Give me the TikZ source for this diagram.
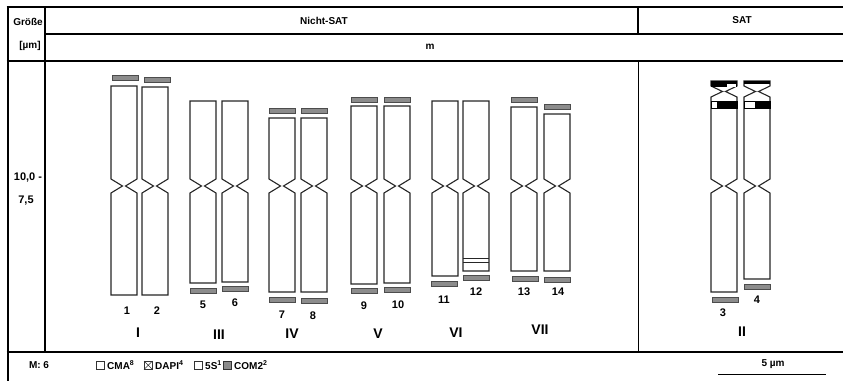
\documentclass[tikz,border=0pt]{standalone}
\usepackage{fontspec}
\setmainfont{Liberation Sans}
\usepackage{xcolor}
\usepackage{tikz}
\usetikzlibrary{positioning}

\definecolor{bandgray}{HTML}{8C8C8C}
\definecolor{chromline}{HTML}{262626}

% chromosome outline: left x, top y, bottom y
\newcommand{\chromo}[3]{%
  \draw[chromosome] (#1,#2) -- (#1+26,#2) -- (#1+26,179) -- (#1+14.5,186)
    -- (#1+26,193) -- (#1+26,#3) -- (#1,#3) -- (#1,193) -- (#1+11.5,186)
    -- (#1,179) -- cycle;}
% chromosome with satellite
\newcommand{\satchromo}[3]{%
  \draw[chromosome] (#1,#2) -- (#1+26,#2) -- (#1+26,#2+5) -- (#1+14.5,#2+10.5)
    -- (#1+26,#2+16) -- (#1+26,179) -- (#1+14.5,186) -- (#1+26,193)
    -- (#1+26,#3) -- (#1,#3) -- (#1,193) -- (#1+11.5,186) -- (#1,179)
    -- (#1,#2+16) -- (#1+11.5,#2+10.5) -- (#1,#2+5) -- cycle;}
\newcommand{\band}[2]{\draw[band] (#1,#2) rectangle ++(26,5);}

\begin{document}
\begin{tikzpicture}
      [ x=1pt, y=-1pt,
        frame/.style={line width=2.8pt, black},
        chromosome/.style={line width=1.1pt, draw=chromline, fill=white},
        band/.style={line width=0.6pt, draw=black!70, fill=bandgray},
        head/.style={font=\bfseries\fontsize{10}{12}\selectfont, inner sep=0pt},
        num/.style={font=\bfseries\fontsize{11}{13}\selectfont, inner sep=0pt},
        roman/.style={font=\bfseries\fontsize{14}{16}\selectfont, inner sep=0pt},
        key/.style={line width=0.6pt, draw=black!80}
      ]
      \useasboundingbox (0,0) rectangle (843,381);

      % table frame
      \draw[frame] (6.6,7) -- (843,7);
      \draw[frame] (45,34) -- (843,34);
      \draw[frame] (6.6,61) -- (843,61);
      \draw[frame] (6.6,352) -- (843,352);
      \draw[frame] (8,7) -- (8,381);
      \draw[frame] (45,7) -- (45,352);
      \draw[frame] (638,7) -- (638,34);
      \draw[line width=0.7pt] (638.5,61) -- (638.5,352);

      % header texts
      \node[head] (size)   at (28,22)  {Größe};
      \node[head] (unit)   at (30,46)  {[µm]};
      \node[head] (nsat)   at (324,21) {Nicht-SAT};
      \node[head] (sat)    at (742,20) {SAT};
      \node[head] (meta)   at (430,47) {m};
      \node[num]  (range)  at (28,178) {10,0 -};
      \node[num]  (rangeb) at (26,201) {7,5};

      % gray bands above
      \band{112}{75} \band{144}{77}
      \band{269}{108} \band{301}{108}
      \band{351}{97} \band{384}{97}
      \band{511}{97} \band{544}{104}

      % chromosomes
      \chromo{111}{86}{295}  \chromo{142}{87}{295}
      \chromo{190}{101}{283} \chromo{222}{101}{282}
      \chromo{269}{118}{292} \chromo{301}{118}{292}
      \chromo{351}{106}{284} \chromo{384}{106}{283}
      \chromo{432}{101}{276} \chromo{463}{101}{271}
      \chromo{511}{107}{271} \chromo{544}{114}{271}
      \satchromo{711}{81}{292} \satchromo{744}{81}{279}
      \draw[line width=0.8pt, chromline] (463,258) -- (489,258)
                                         (463,262.5) -- (489,262.5);

      % satellite marks
      \fill[black] (711,81) rectangle (737,86.5);
      \fill[white] (727,84) rectangle (736,86.5);
      \fill[black] (744,81) rectangle (770,83.5);
      \draw[line width=0.8pt] (711,101) rectangle (737,108);
      \fill[black] (717,101) rectangle (737,108);
      \draw[line width=0.8pt] (744,101) rectangle (770,108);
      \fill[black] (755,101) rectangle (770,108);

      % gray bands below
      \band{190}{288} \band{222}{286}
      \band{269}{297} \band{301}{298}
      \band{351}{288} \band{384}{287}
      \band{431}{281} \band{463}{275}
      \band{512}{276} \band{544}{277}
      \band{712}{297} \band{744}{284}

      % chromosome numbers
      \node[num] (c1)  at (127,311) {1};
      \node[num] (c2)  at (157,311) {2};
      \node[num] (c5)  at (203,305) {5};
      \node[num] (c6)  at (235,303) {6};
      \node[num] (c7)  at (282,315) {7};
      \node[num] (c8)  at (313,316) {8};
      \node[num] (c9)  at (364,306) {9};
      \node[num] (c10) at (398,305) {10};
      \node[num] (c11) at (444,300) {11};
      \node[num] (c12) at (476,292) {12};
      \node[num] (c13) at (524,292) {13};
      \node[num] (c14) at (558,292) {14};
      \node[num] (c3)  at (723,313) {3};
      \node[num] (c4)  at (757,300) {4};

      % pair numbers
      \node[roman] (pI)   at (138,333) {I};
      \node[roman] (pIII) at (219,335) {III};
      \node[roman] (pIV)  at (292,334) {IV};
      \node[roman] (pV)   at (378,334) {V};
      \node[roman] (pVI)  at (456,333) {VI};
      \node[roman] (pVII) at (540,330) {VII};
      \node[roman] (pII)  at (742,332) {II};

      % legend
      \node[head] (mono) at (39,365) {M: 6};
      \draw[key, fill=white] (96,361) rectangle (104.5,369.5);
      \node[head, anchor=west] (cma) at (107,365) {CMA\textsuperscript{8}};
      \draw[key, fill=white] (144,361) rectangle (152.5,369.5);
      \draw[key] (144,361) -- (152.5,369.5) (144,369.5) -- (152.5,361);
      \node[head, anchor=west] (dapi) at (155,365) {DAPI\textsuperscript{4}};
      \draw[key, fill=white] (194,361) rectangle (202.5,369.5);
      \node[head, anchor=west] (fives) at (205,365) {5S\textsuperscript{1}};
      \draw[key, fill=bandgray] (223,361) rectangle (231.5,369.5);
      \node[head, anchor=west] (com) at (234,365) {COM2\textsuperscript{2}};

      % scale bar
      \node[head] (scale) at (773,364) {5 µm};
      \coordinate (barl) at (718,374);
      \coordinate (barr) at (826,374);
      \draw[line width=1pt] (barl) -- (barr);
    \end{tikzpicture}
\end{document}
